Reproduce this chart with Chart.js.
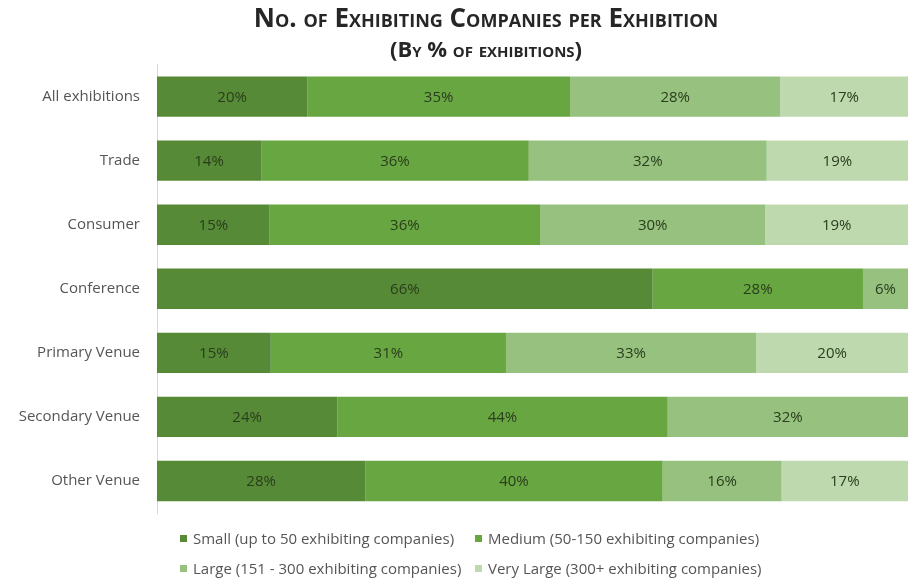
<!DOCTYPE html>
<html>
<head>
<meta charset="utf-8">
<script src="https://cdn.jsdelivr.net/npm/chart.js@4.4.0/dist/chart.umd.min.js"></script>
<style>
  html, body { margin: 0; padding: 0; background: #fff; }
  #wrap { position: relative; width: 910px; height: 579px; }
  #legend {
    position: absolute; left: 180px; top: 528px;
    display: grid; grid-template-columns: 295px 300px; row-gap: 10px;
    font: 15px "Open Sans", sans-serif; color: #555;
  }
  #legend span.item { display: flex; align-items: center; white-space: nowrap; height: 20px; }
  #legend i { display: inline-block; width: 7px; height: 7px; margin-right: 6px; }
</style>
</head>
<body>
<div id="wrap">
  <canvas id="chart" width="910" height="579"></canvas>
  <div id="legend"></div>
</div>
<script>
var categories = ['All exhibitions', 'Trade', 'Consumer', 'Conference', 'Primary Venue', 'Secondary Venue', 'Other Venue'];
var sizeNames = [
  'Small (up to 50 exhibiting companies)',
  'Medium (50-150 exhibiting companies)',
  'Large (151 - 300 exhibiting companies)',
  'Very Large (300+ exhibiting companies)'
];
var small     = [20, 14, 15, 66, 15, 24, 28];
var medium    = [35, 36, 36, 28, 31, 44, 40];
var large     = [28, 32, 30,  6, 33, 32, 16];
var veryLarge = [17, 19, 19,  0, 20,  0, 17];
var colors = ['#578a36', '#68a641', '#96c17e', '#bfd9ae'];

var series = [small, medium, large, veryLarge];

// each row is shown as share of its own total (100% stacked)
var totals = categories.map(function(c, i) {
  return series.reduce(function(s, arr) { return s + arr[i]; }, 0);
});

var datasets = series.map(function(arr, k) {
  return {
    label: sizeNames[k],
    raw: arr,
    data: arr.map(function(v, i) { return v / totals[i] * 100; }),
    backgroundColor: colors[k],
    borderWidth: 0,
    barPercentage: 0.63,
    categoryPercentage: 1
  };
});

var barLabels = {
  id: 'barLabels',
  afterDatasetsDraw: function(chart) {
    var ctx = chart.ctx;
    ctx.save();
    ctx.font = '15px "Open Sans", sans-serif';
    ctx.fillStyle = '#2a3d1d';
    ctx.textAlign = 'center';
    ctx.textBaseline = 'middle';
    chart.data.datasets.forEach(function(ds, k) {
      chart.getDatasetMeta(k).data.forEach(function(bar, i) {
        var v = ds.raw[i];
        if (!v) return;
        var p = bar.getCenterPoint();
        ctx.fillText(v + '%', p.x, p.y + 1);
      });
    });
    ctx.restore();
  }
};

// titles sit a bit right of the page centre
var shiftTitles = {
  id: 'shiftTitles',
  afterLayout: function(chart) {
    chart.boxes.forEach(function(b) {
      if (b.options && typeof b.options.text === 'string') b.left += 64;
    });
  }
};

var chart = new Chart(document.getElementById('chart'), {
  type: 'bar',
  data: { labels: categories, datasets: datasets },
  options: {
    indexAxis: 'y',
    responsive: false,
    animation: false,
    layout: { padding: { left: 0, right: 2, top: 0, bottom: 66 } },
    scales: {
      x: { stacked: true, min: 0, max: 100, display: false },
      y: {
        stacked: true,
        afterFit: function(s) { s.width = 157; },
        grid: { display: false, drawTicks: false },
        border: { display: true, color: '#d9d9d9', width: 1 },
        ticks: { color: '#555', padding: 17, font: { family: 'Open Sans', size: 15 } }
      }
    },
    plugins: {
      legend: { display: false },
      tooltip: { enabled: false },
      title: {
        display: true,
        text: 'No. of Exhibiting Companies per Exhibition',
        color: '#262626',
        font: { family: 'Open Sans', size: 26, weight: 'small-caps bold', lineHeight: 1.2 },
        padding: { top: 4, bottom: 0 }
      },
      subtitle: {
        display: true,
        text: '(By % of exhibitions)',
        color: '#262626',
        font: { family: 'Open Sans', size: 22, weight: 'small-caps bold', lineHeight: 1.2 },
        padding: { top: 2, bottom: 1 }
      }
    }
  },
  plugins: [barLabels, shiftTitles]
});

// legend in two columns
var legend = document.getElementById('legend');
datasets.forEach(function(ds) {
  var item = document.createElement('span');
  item.className = 'item';
  var box = document.createElement('i');
  box.style.background = ds.backgroundColor;
  item.appendChild(box);
  item.appendChild(document.createTextNode(ds.label));
  legend.appendChild(item);
});
</script>
</body>
</html>
